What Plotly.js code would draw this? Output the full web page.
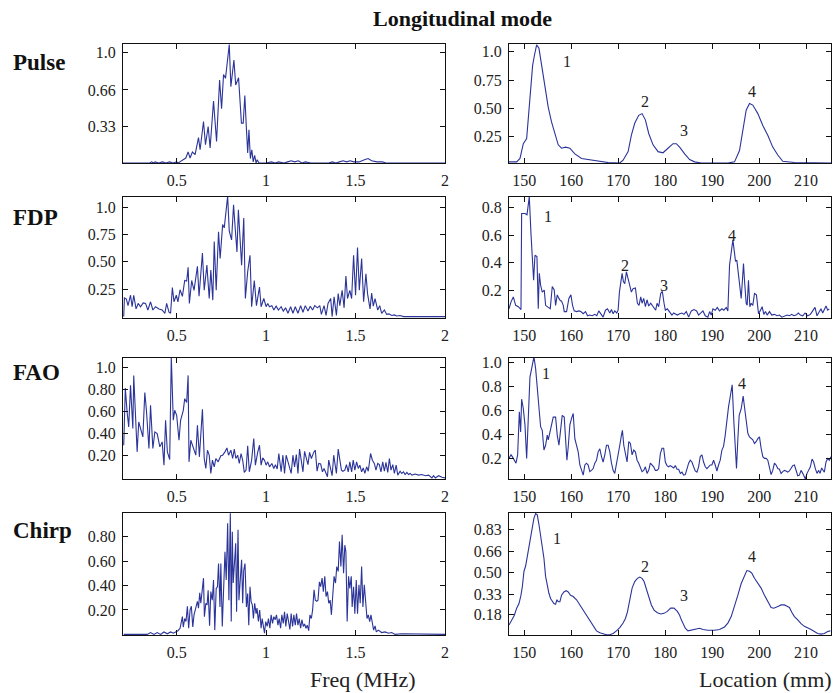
<!DOCTYPE html>
<html><head><meta charset="utf-8">
<script src="https://cdn.plot.ly/plotly-3.0.1.min.js"></script>
<style>html,body{margin:0;padding:0;background:#fff;}#chart{width:837px;height:693px;}</style>
</head><body><div id="chart"></div>
<script>
// ---- DATA: [x, y] pairs ----
const pulseFreq = [[0.2,0],[0.35,0],[0.36,0.01],[0.37,0],[0.38,0.01],[0.40,0],[0.42,0.01],[0.44,0],[0.46,0.01],[0.48,0],[0.50,0.01],[0.51,0],[0.522,0.015],[0.551,0.045],[0.564,0.1],[0.575,0.045],[0.588,0.1],[0.603,0.075],[0.622,0.23],[0.631,0.12],[0.650,0.375],[0.661,0.165],[0.676,0.33],[0.687,0.135],[0.706,0.56],[0.723,0.195],[0.740,0.75],[0.751,0.49],[0.762,0.80],[0.773,0.765],[0.794,1.07],[0.803,0.69],[0.820,0.93],[0.830,0.705],[0.846,0.77],[0.855,0.53],[0.862,0.36],[0.872,0.36],[0.881,0.61],[0.889,0.34],[0.897,0.09],[0.904,0.30],[0.912,0.04],[0.920,0.12],[0.928,0.01],[0.936,0.07],[0.944,0.0],[0.95,0.03],[0.96,0],[0.98,0],[1.0,0],[1.03,0.01],[1.05,0],[1.07,0.01],[1.1,0],[1.12,0.01],[1.14,0.02],[1.16,0.01],[1.18,0.02],[1.2,0],[1.22,0.01],[1.25,0],[1.35,0],[1.37,0.01],[1.39,0],[1.41,0.01],[1.43,0.02],[1.45,0.01],[1.47,0.02],[1.49,0.01],[1.52,0.01],[1.55,0.03],[1.57,0.04],[1.59,0.02],[1.62,0.01],[1.65,0.01],[1.67,0],[2.0,0]];

const pulseLoc = [[146.74,0.03],[148.37,0.03],[149.08,0.06],[149.79,0.19],[150.50,0.235],[151.20,0.56],[151.77,0.88],[152.12,0.96],[152.62,1.06],[153.12,1.03],[153.68,0.88],[154.39,0.68],[155.10,0.51],[155.81,0.38],[156.52,0.29],[157.22,0.18],[157.93,0.15],[158.78,0.16],[159.70,0.15],[160.76,0.10],[162.18,0.06],[164.31,0.045],[166.43,0.035],[167.85,0.024],[170.33,0.02],[171.03,0.045],[172.10,0.12],[172.80,0.265],[173.51,0.37],[174.36,0.44],[175.07,0.455],[175.78,0.40],[176.49,0.28],[177.41,0.18],[178.47,0.12],[179.53,0.11],[180.59,0.15],[181.66,0.19],[182.37,0.19],[183.07,0.16],[184.14,0.10],[185.20,0.05],[186.26,0.03],[187.68,0.02],[193.34,0.02],[194.76,0.03],[195.82,0.13],[196.53,0.31],[197.24,0.485],[197.95,0.545],[198.65,0.53],[199.72,0.455],[200.78,0.35],[201.84,0.265],[202.90,0.16],[203.97,0.09],[205.03,0.035],[207.51,0.025],[215.30,0.02]];

const fdpFreq = [[0.204,0.0],[0.208,0.17],[0.219,0.16],[0.228,0.10],[0.242,0.195],[0.251,0.09],[0.260,0.195],[0.273,0.07],[0.285,0.12],[0.298,0.09],[0.313,0.125],[0.326,0.12],[0.339,0.06],[0.354,0.135],[0.367,0.06],[0.382,0.09],[0.401,0.07],[0.419,0.06],[0.434,0.03],[0.444,0.12],[0.457,0.04],[0.466,0.03],[0.476,0.265],[0.485,0.135],[0.498,0.195],[0.507,0.135],[0.519,0.245],[0.532,0.185],[0.545,0.33],[0.556,0.325],[0.564,0.45],[0.571,0.12],[0.584,0.33],[0.597,0.24],[0.616,0.46],[0.625,0.185],[0.644,0.58],[0.654,0.24],[0.669,0.47],[0.682,0.165],[0.691,0.425],[0.702,0.15],[0.710,0.685],[0.721,0.24],[0.734,0.775],[0.743,0.53],[0.757,0.84],[0.766,0.81],[0.785,1.10],[0.794,0.78],[0.807,0.70],[0.818,1.02],[0.828,0.79],[0.837,0.59],[0.845,0.975],[0.856,0.70],[0.863,0.47],[0.875,0.90],[0.884,0.165],[0.897,0.41],[0.910,0.56],[0.919,0.09],[0.934,0.33],[0.946,0.10],[0.963,0.27],[0.972,0.09],[0.987,0.165],[1.000,0.09],[1.009,0.12],[1.019,0.09],[1.032,0.10],[1.043,0.06],[1.056,0.095],[1.069,0.06],[1.084,0.09],[1.096,0.05],[1.109,0.08],[1.122,0.03],[1.137,0.09],[1.150,0.03],[1.163,0.09],[1.178,0.03],[1.193,0.10],[1.206,0.04],[1.219,0.10],[1.234,0.05],[1.247,0.095],[1.260,0.06],[1.272,0.10],[1.287,0.08],[1.300,0.10],[1.309,0.02],[1.324,0.10],[1.335,0.01],[1.346,0.12],[1.361,0.165],[1.369,0.0],[1.380,0.18],[1.393,0.01],[1.403,0.21],[1.412,0.10],[1.425,0.24],[1.436,0.08],[1.446,0.37],[1.455,0.165],[1.468,0.24],[1.478,0.165],[1.489,0.56],[1.500,0.195],[1.511,0.63],[1.521,0.24],[1.534,0.53],[1.545,0.135],[1.558,0.39],[1.567,0.21],[1.581,0.07],[1.590,0.215],[1.599,0.095],[1.609,0.165],[1.624,0.06],[1.635,0.10],[1.646,0.03],[1.661,0.06],[1.674,0.02],[1.687,0.025],[1.702,0.01],[1.717,0.015],[1.730,0.005],[1.749,0.01],[1.768,0.0],[2.0,0.0]];

const fdpLoc = [[146.74,0.07],[147.17,0.12],[147.66,0.155],[148.16,0.095],[148.73,0.085],[149.29,0.065],[149.43,0.755],[150.14,0.755],[150.57,0.745],[150.85,0.85],[151.06,0.875],[151.42,0.61],[151.70,0.445],[151.98,0.275],[152.27,0.455],[152.69,0.445],[152.97,0.07],[153.19,0.325],[153.47,0.24],[153.82,0.19],[154.25,0.205],[154.53,0.095],[155.10,0.08],[155.52,0.07],[155.95,0.23],[156.37,0.205],[156.66,0.095],[157.01,0.17],[157.37,0.145],[157.65,0.13],[157.93,0.125],[158.29,0.095],[158.50,0.05],[159.00,0.05],[159.49,0.145],[159.92,0.17],[160.27,0.095],[160.62,0.055],[161.12,0.05],[161.61,0.055],[162.04,0.05],[162.54,0.035],[163.03,0.05],[163.46,0.02],[163.95,0.025],[164.45,0.02],[165.01,0.03],[165.44,0.02],[165.86,0.055],[166.29,0.035],[166.78,0.01],[167.28,0.06],[167.71,0.07],[168.20,0.04],[168.56,0.065],[168.91,0.035],[169.26,0.055],[169.69,0.04],[169.97,0.06],[170.25,0.19],[170.54,0.25],[170.82,0.325],[171.10,0.265],[171.39,0.25],[171.74,0.335],[172.10,0.29],[172.45,0.25],[172.80,0.19],[173.16,0.215],[173.65,0.22],[174.08,0.11],[174.43,0.095],[174.79,0.155],[175.07,0.11],[175.42,0.145],[175.78,0.085],[176.13,0.135],[176.49,0.09],[176.91,0.11],[177.27,0.09],[177.62,0.08],[177.97,0.06],[178.26,0.11],[178.61,0.085],[179.04,0.18],[179.39,0.195],[179.75,0.11],[180.03,0.06],[180.45,0.07],[180.95,0.05],[181.44,0.025],[181.80,0.04],[182.15,0.035],[182.58,0.025],[183.07,0.035],[183.57,0.04],[183.99,0.03],[184.49,0.05],[184.99,0.01],[185.55,0.055],[186.12,0.065],[186.69,0.055],[187.11,0.025],[187.54,0.04],[188.03,0.055],[188.53,0.02],[189.09,0.01],[189.45,0.05],[189.80,0.025],[190.16,0.07],[190.65,0.06],[191.08,0.08],[191.57,0.055],[192.07,0.07],[192.49,0.06],[192.99,0.08],[193.34,0.055],[193.70,0.385],[194.05,0.47],[194.41,0.565],[194.76,0.47],[194.97,0.41],[195.25,0.42],[195.61,0.31],[195.82,0.29],[196.18,0.145],[196.39,0.25],[196.67,0.395],[196.88,0.275],[197.24,0.11],[197.45,0.095],[197.73,0.275],[198.02,0.085],[198.30,0.11],[198.65,0.095],[199.01,0.18],[199.43,0.17],[199.86,0.035],[200.21,0.055],[200.64,0.085],[200.99,0.03],[201.35,0.05],[201.70,0.025],[202.20,0.05],[202.69,0.025],[203.26,0.03],[203.82,0.02],[204.32,0.025],[204.82,0.01],[205.38,0.02],[205.95,0.025],[206.44,0.02],[206.94,0.03],[207.37,0.02],[207.86,0.025],[208.36,0.04],[208.78,0.025],[209.28,0.02],[209.77,0.04],[210.34,0.02],[210.91,0.03],[211.40,0.055],[211.90,0.08],[212.32,0.02],[212.82,0.05],[213.17,0.07],[213.53,0.04],[213.88,0.07],[214.24,0.09],[214.59,0.06],[214.94,0.07]];

const faoFreq = [[0.204,0.295],[0.213,0.81],[0.223,0.595],[0.232,0.46],[0.242,0.835],[0.255,0.445],[0.260,0.925],[0.270,0.55],[0.279,0.235],[0.288,0.505],[0.298,0.445],[0.311,0.37],[0.322,0.77],[0.331,0.61],[0.345,0.265],[0.354,0.655],[0.367,0.265],[0.378,0.415],[0.391,0.40],[0.406,0.28],[0.419,0.325],[0.429,0.115],[0.438,0.52],[0.448,0.235],[0.461,0.165],[0.470,1.09],[0.481,0.52],[0.489,0.61],[0.500,0.565],[0.513,0.34],[0.522,0.52],[0.537,0.61],[0.545,0.715],[0.556,0.68],[0.564,0.925],[0.569,0.145],[0.579,0.34],[0.594,0.265],[0.607,0.205],[0.616,0.475],[0.627,0.19],[0.644,0.62],[0.654,0.175],[0.663,0.085],[0.672,0.25],[0.682,0.205],[0.691,0.04],[0.700,0.16],[0.710,0.10],[0.719,0.175],[0.732,0.145],[0.747,0.20],[0.757,0.205],[0.770,0.235],[0.781,0.27],[0.790,0.205],[0.803,0.25],[0.813,0.175],[0.822,0.26],[0.831,0.175],[0.841,0.205],[0.850,0.13],[0.860,0.22],[0.869,0.16],[0.878,0.05],[0.888,0.07],[0.897,0.29],[0.906,0.055],[0.919,0.16],[0.931,0.355],[0.940,0.115],[0.953,0.23],[0.963,0.295],[0.972,0.115],[0.981,0.18],[0.991,0.16],[1.000,0.115],[1.009,0.145],[1.019,0.10],[1.032,0.13],[1.043,0.085],[1.052,0.12],[1.062,0.08],[1.071,0.22],[1.084,0.055],[1.094,0.205],[1.103,0.04],[1.112,0.205],[1.122,0.145],[1.131,0.085],[1.140,0.04],[1.150,0.205],[1.159,0.10],[1.169,0.21],[1.178,0.04],[1.187,0.26],[1.197,0.16],[1.206,0.055],[1.215,0.24],[1.225,0.16],[1.234,0.12],[1.243,0.23],[1.253,0.175],[1.266,0.23],[1.275,0.25],[1.285,0.06],[1.294,0.13],[1.305,0.125],[1.315,0.055],[1.324,0.085],[1.331,0.055],[1.343,0.01],[1.350,0.16],[1.360,0.07],[1.369,0.02],[1.378,0.205],[1.388,0.10],[1.393,0.04],[1.403,0.26],[1.412,0.16],[1.421,0.07],[1.429,0.06],[1.440,0.07],[1.449,0.12],[1.459,0.055],[1.468,0.145],[1.478,0.055],[1.487,0.16],[1.496,0.07],[1.506,0.145],[1.515,0.085],[1.524,0.115],[1.534,0.055],[1.543,0.09],[1.552,0.04],[1.562,0.10],[1.571,0.06],[1.584,0.22],[1.594,0.16],[1.605,0.13],[1.614,0.07],[1.624,0.13],[1.633,0.12],[1.642,0.055],[1.652,0.145],[1.661,0.06],[1.670,0.14],[1.680,0.05],[1.689,0.175],[1.698,0.07],[1.708,0.12],[1.717,0.04],[1.727,0.115],[1.736,0.025],[1.749,0.06],[1.758,0.04],[1.768,0.055],[1.777,0.03],[1.787,0.05],[1.796,0.03],[1.805,0.04],[1.815,0.025],[1.833,0.035],[1.852,0.025],[1.871,0.03],[1.890,0.02],[1.908,0.025],[1.927,0.0],[1.936,0.02],[1.946,0.0],[1.964,0.02],[1.983,0.005],[2.0,0.0]];

const faoLoc = [[146.74,0.20],[147.17,0.23],[147.45,0.215],[147.88,0.185],[148.23,0.16],[148.58,0.23],[148.94,0.59],[149.22,0.42],[149.43,0.695],[149.79,0.615],[150.14,0.48],[150.50,0.20],[150.85,0.48],[151.20,0.88],[151.56,0.95],[152.05,1.05],[152.41,0.95],[152.76,0.81],[153.12,0.645],[153.47,0.465],[153.82,0.435],[154.18,0.27],[154.53,0.31],[154.89,0.395],[155.10,0.355],[155.45,0.42],[155.81,0.48],[156.16,0.545],[156.66,0.545],[157.01,0.395],[157.37,0.31],[157.72,0.45],[158.07,0.56],[158.50,0.545],[158.78,0.365],[159.07,0.185],[159.35,0.295],[159.70,0.48],[160.06,0.535],[160.41,0.575],[160.76,0.365],[161.12,0.31],[161.47,0.255],[161.83,0.145],[162.18,0.10],[162.54,0.06],[162.89,0.145],[163.24,0.16],[163.60,0.145],[163.95,0.09],[164.31,0.10],[164.66,0.115],[165.01,0.16],[165.37,0.185],[165.72,0.255],[166.08,0.28],[166.43,0.215],[166.78,0.17],[167.14,0.23],[167.49,0.31],[167.85,0.31],[168.20,0.255],[168.56,0.16],[168.91,0.10],[169.26,0.075],[169.62,0.145],[169.97,0.24],[170.33,0.31],[170.68,0.395],[170.89,0.435],[171.18,0.31],[171.53,0.23],[171.88,0.17],[172.24,0.34],[172.59,0.325],[172.95,0.23],[173.30,0.27],[173.65,0.255],[174.01,0.185],[174.36,0.16],[174.72,0.13],[175.07,0.09],[175.42,0.10],[175.78,0.13],[176.13,0.075],[176.49,0.10],[176.84,0.16],[177.20,0.145],[177.55,0.13],[177.90,0.10],[178.26,0.10],[178.61,0.115],[178.97,0.24],[179.32,0.285],[179.67,0.285],[180.03,0.17],[180.38,0.14],[180.74,0.13],[181.09,0.14],[181.44,0.13],[181.80,0.12],[182.15,0.14],[182.51,0.11],[182.86,0.11],[183.22,0.075],[183.57,0.085],[183.92,0.06],[184.28,0.065],[184.63,0.115],[184.99,0.16],[185.34,0.185],[185.69,0.17],[186.05,0.13],[186.40,0.095],[186.76,0.085],[187.11,0.13],[187.46,0.215],[187.82,0.23],[188.17,0.17],[188.53,0.13],[188.88,0.115],[189.24,0.13],[189.59,0.145],[189.94,0.145],[190.30,0.185],[190.65,0.145],[191.01,0.095],[191.36,0.145],[191.71,0.185],[192.07,0.27],[192.42,0.30],[192.78,0.395],[193.13,0.535],[193.48,0.63],[193.84,0.715],[194.26,0.815],[194.62,0.505],[194.90,0.285],[195.18,0.115],[195.47,0.365],[195.75,0.56],[196.18,0.615],[196.60,0.72],[196.88,0.63],[197.24,0.52],[197.59,0.41],[197.95,0.38],[198.30,0.365],[198.65,0.355],[199.01,0.325],[199.36,0.34],[199.72,0.365],[200.07,0.38],[200.42,0.285],[200.78,0.215],[201.13,0.20],[201.49,0.20],[201.84,0.185],[202.20,0.13],[202.55,0.065],[202.90,0.10],[203.26,0.16],[203.61,0.145],[203.97,0.115],[204.32,0.11],[204.67,0.075],[205.03,0.09],[205.38,0.10],[205.74,0.095],[206.09,0.085],[206.44,0.095],[206.80,0.115],[207.15,0.14],[207.51,0.145],[207.86,0.10],[208.22,0.055],[208.57,0.06],[208.92,0.10],[209.28,0.075],[209.63,0.045],[209.84,0.028],[210.20,0.075],[210.55,0.10],[210.91,0.13],[211.26,0.195],[211.61,0.17],[211.97,0.115],[212.32,0.075],[212.68,0.10],[212.96,0.075],[213.31,0.12],[213.67,0.095],[213.88,0.085],[214.24,0.17],[214.59,0.20],[214.94,0.185],[215.30,0.215]];

const chirpFreq = [[0.204,0],[0.335,0],[0.354,0.015],[0.373,0.0],[0.391,0.015],[0.410,0.0],[0.429,0.02],[0.448,0.005],[0.466,0.02],[0.481,0.01],[0.494,0.02],[0.507,0.03],[0.519,0.05],[0.526,0.09],[0.532,0.145],[0.537,0.06],[0.545,0.13],[0.552,0.105],[0.560,0.23],[0.567,0.05],[0.575,0.20],[0.582,0.23],[0.590,0.06],[0.597,0.16],[0.607,0.215],[0.616,0.27],[0.622,0.215],[0.629,0.34],[0.635,0.255],[0.642,0.375],[0.650,0.46],[0.655,0.145],[0.663,0.255],[0.670,0.24],[0.676,0.36],[0.684,0.07],[0.691,0.35],[0.699,0.28],[0.706,0.445],[0.713,0.035],[0.721,0.375],[0.728,0.39],[0.734,0.58],[0.742,0.225],[0.747,0.58],[0.755,0.065],[0.762,0.43],[0.770,0.675],[0.777,0.445],[0.785,0.91],[0.792,0.28],[0.800,0.99],[0.805,0.105],[0.811,0.84],[0.816,0.42],[0.822,0.61],[0.830,0.745],[0.835,0.185],[0.843,0.855],[0.848,0.28],[0.856,0.445],[0.863,0.61],[0.869,0.255],[0.875,0.525],[0.882,0.58],[0.890,0.225],[0.897,0.335],[0.903,0.075],[0.910,0.39],[0.916,0.27],[0.923,0.24],[0.929,0.13],[0.936,0.255],[0.944,0.17],[0.949,0.215],[0.957,0.105],[0.964,0.20],[0.972,0.05],[0.978,0.13],[0.985,0.075],[0.991,0.01],[0.998,0.105],[1.006,0.065],[1.013,0.13],[1.021,0.05],[1.028,0.16],[1.036,0.09],[1.043,0.145],[1.051,0.12],[1.058,0.16],[1.066,0.075],[1.073,0.13],[1.081,0.05],[1.088,0.16],[1.096,0.09],[1.103,0.185],[1.110,0.065],[1.118,0.17],[1.125,0.105],[1.133,0.04],[1.140,0.17],[1.148,0.065],[1.155,0.16],[1.163,0.075],[1.170,0.17],[1.178,0.075],[1.185,0.13],[1.193,0.05],[1.200,0.12],[1.208,0.065],[1.215,0.085],[1.223,0.05],[1.230,0.075],[1.238,0.03],[1.245,0.16],[1.253,0.13],[1.260,0.20],[1.268,0.365],[1.275,0.28],[1.283,0.27],[1.290,0.28],[1.298,0.43],[1.305,0.39],[1.313,0.46],[1.320,0.35],[1.328,0.475],[1.335,0.31],[1.343,0.35],[1.350,0.255],[1.358,0.28],[1.365,0.16],[1.373,0.31],[1.380,0.475],[1.388,0.42],[1.395,0.555],[1.403,0.515],[1.410,0.76],[1.418,0.555],[1.425,0.815],[1.433,0.50],[1.440,0.73],[1.446,0.675],[1.453,0.105],[1.461,0.475],[1.468,0.375],[1.476,0.475],[1.481,0.225],[1.489,0.39],[1.496,0.17],[1.504,0.445],[1.511,0.17],[1.519,0.405],[1.526,0.255],[1.534,0.555],[1.541,0.225],[1.549,0.405],[1.556,0.255],[1.564,0.13],[1.571,0.16],[1.579,0.105],[1.586,0.16],[1.594,0.09],[1.601,0.035],[1.609,0.07],[1.616,0.02],[1.627,0.035],[1.646,0.015],[1.665,0.02],[1.684,0.01],[1.702,0.015],[1.721,0.0],[1.758,0.005],[1.890,0.0],[2.0,0.0]];

const chirpLoc = [[146.74,0.095],[147.31,0.135],[147.88,0.17],[148.37,0.225],[148.87,0.26],[149.29,0.325],[149.58,0.39],[149.93,0.51],[150.28,0.55],[150.64,0.625],[150.99,0.70],[151.35,0.765],[151.70,0.855],[152.05,0.92],[152.41,0.955],[152.76,0.945],[153.12,0.87],[153.47,0.78],[153.82,0.70],[154.18,0.61],[154.53,0.47],[154.89,0.39],[155.24,0.34],[155.59,0.30],[155.95,0.275],[156.30,0.26],[156.66,0.255],[156.94,0.29],[157.22,0.275],[157.58,0.275],[157.93,0.325],[158.43,0.35],[158.92,0.36],[159.35,0.35],[159.84,0.325],[160.41,0.315],[161.12,0.29],[161.83,0.25],[162.54,0.21],[163.24,0.17],[163.95,0.135],[164.66,0.085],[165.37,0.05],[166.08,0.035],[166.78,0.025],[167.49,0.02],[168.20,0.02],[168.91,0.03],[169.62,0.05],[170.33,0.075],[171.03,0.11],[171.53,0.145],[171.95,0.195],[172.45,0.29],[172.95,0.38],[173.51,0.43],[174.08,0.455],[174.58,0.465],[175.07,0.455],[175.50,0.43],[175.99,0.38],[176.49,0.315],[177.05,0.25],[177.62,0.21],[178.33,0.19],[179.04,0.18],[179.75,0.185],[180.45,0.20],[181.16,0.225],[181.87,0.225],[182.58,0.20],[183.07,0.17],[183.43,0.135],[183.78,0.105],[184.28,0.07],[184.84,0.05],[185.55,0.055],[186.26,0.06],[187.32,0.07],[188.03,0.06],[189.09,0.055],[190.51,0.055],[191.57,0.06],[192.63,0.08],[193.34,0.11],[194.05,0.16],[194.76,0.235],[195.47,0.325],[196.18,0.415],[196.88,0.48],[197.38,0.515],[197.95,0.51],[198.44,0.495],[199.01,0.455],[199.72,0.42],[200.42,0.38],[201.13,0.325],[201.84,0.275],[202.55,0.23],[203.12,0.225],[203.61,0.23],[204.11,0.24],[204.67,0.25],[205.38,0.25],[205.95,0.24],[206.44,0.23],[207.01,0.19],[207.51,0.16],[208.22,0.135],[208.92,0.105],[209.63,0.085],[210.34,0.075],[211.05,0.06],[211.76,0.045],[212.46,0.03],[213.17,0.025],[213.88,0.03],[214.59,0.045],[215.16,0.05]];

// tick values / labels
const freqTicks = [0.5, 1, 1.5, 2];
const freqTickText = ['0.5', '1', '1.5', '2'];
const locTicks = [150, 160, 170, 180, 190, 200, 210];
const locTickText = ['150', '160', '170', '180', '190', '200', '210'];
const yTicks = [
  {v:[0.33,0.66,1.0], t:['0.33','0.66','1.0']},
  {v:[0.25,0.5,0.75,1.0], t:['0.25','0.50','0.75','1.0']},
  {v:[0.25,0.5,0.75,1.0], t:['0.25','0.50','0.75','1.0']},
  {v:[0.2,0.4,0.6,0.8], t:['0.2','0.4','0.6','0.8']},
  {v:[0.2,0.4,0.6,0.8,1.0], t:['0.20','0.40','0.60','0.80','1.0']},
  {v:[0.2,0.4,0.6,0.8,1.0], t:['0.2','0.4','0.6','0.8','1.0']},
  {v:[0.2,0.4,0.6,0.8], t:['0.20','0.40','0.60','0.80']},
  {v:[0.18,0.33,0.50,0.66,0.83], t:['0.18','0.33','0.50','0.66','0.83']}
];
const rowLabels = ['Pulse', 'FDP', 'FAO', 'Chirp'];
const peakLabels = [
  {sub:2, pts:[['1',159.0,0.91],['2',175.6,0.56],['3',183.9,0.31],['4',198.4,0.65]]},
  {sub:4, pts:[['1',155.0,0.73],['2',171.5,0.38],['3',179.7,0.235],['4',194.3,0.595]]},
  {sub:6, pts:[['1',154.7,0.91],['4',196.3,0.825]]},
  {sub:8, pts:[['1',157.0,0.765],['2',175.6,0.546],['3',183.9,0.32],['4',198.4,0.62]]}
];

// ---- LAYOUT GEOMETRY ----
const W = 837, H = 693;
const FONT = '"Liberation Serif", "Times New Roman", "DejaVu Serif", serif';
const LINE = '#2b3499';
const colDom = [[123/W, 445/W], [509/W, 831/W]];
const rowPx = [[44,163],[197,318],[358,479],[513,635]];
const yRanges = [[0,1.075],[0.02,1.068],[-0.013,1.092],[0.004,0.873],[-0.01,1.082],[0.028,1.039],[-0.005,0.993],[0.018,0.959]];
const xRanges = [[0.2,2.0],[146.74,215.3]];
const series = [pulseFreq, pulseLoc, fdpFreq, fdpLoc, faoFreq, faoLoc, chirpFreq, chirpLoc];

const traces = [];
const layout = {
  width: W, height: H, margin:{l:0,r:0,t:0,b:0},
  paper_bgcolor:'#fff', plot_bgcolor:'#fff', showlegend:false,
  font:{family:FONT, size:16, color:'#222'},
  annotations:[]
};
series.forEach((s, i) => {
  const n = i + 1;
  const row = Math.floor(i/2), col = i % 2;
  const xk = n === 1 ? 'x' : 'x' + n, yk = n === 1 ? 'y' : 'y' + n;
  traces.push({x: s.map(p=>p[0]), y: s.map(p=>p[1]), xaxis: xk, yaxis: yk,
    type:'scatter', mode:'lines', line:{color:LINE, width:1.1}, hoverinfo:'skip', cliponaxis:true});
  const common = {showline:true, linecolor:'#111', linewidth:1, mirror:'ticks', ticks:'inside',
    ticklen:5, tickcolor:'#111', tickwidth:1, showgrid:false, zeroline:false, fixedrange:true,
    tickfont:{family:FONT, size:16, color:'#222'}, tickmode:'array'};
  layout[n===1?'xaxis':'xaxis'+n] = Object.assign({}, common, {
    domain: colDom[col], range: xRanges[col], anchor: yk,
    tickvals: col===0?freqTicks:locTicks, ticktext: col===0?freqTickText:locTickText,
    ticklabelstandoff: 3});
  layout[n===1?'yaxis':'yaxis'+n] = Object.assign({}, common, {
    domain: [1 - rowPx[row][1]/H, 1 - rowPx[row][0]/H], range: yRanges[i], anchor: xk,
    tickvals: yTicks[i].v, ticktext: yTicks[i].t, ticklabelstandoff: 3});
});

peakLabels.forEach(g => {
  g.pts.forEach(p => layout.annotations.push({text:p[0], x:p[1], y:p[2], xref:'x'+g.sub, yref:'y'+g.sub,
    showarrow:false, font:{family:FONT, size:16, color:'#222'}}));
});
const rowY = [62, 218, 373, 530];
rowLabels.forEach((t, r) => layout.annotations.push({text:'<b>'+t+'</b>', x:11/W, y:1-rowY[r]/H,
  xref:'paper', yref:'paper', xanchor:'left', yanchor:'middle', showarrow:false,
  font:{family:FONT, size:23, color:'#111'}}));
layout.annotations.push({text:'<b>Longitudinal mode</b>', x:371/W, y:1-18/H, xref:'paper', yref:'paper',
  xanchor:'left', yanchor:'middle', showarrow:false, font:{family:FONT, size:22, color:'#111'}});
layout.annotations.push({text:'Freq (MHz)', x:418/W, y:1-679/H, xref:'paper', yref:'paper',
  xanchor:'right', yanchor:'middle', showarrow:false, font:{family:FONT, size:22, color:'#222'}});
layout.annotations.push({text:'Location (mm)', x:834/W, y:1-679/H, xref:'paper', yref:'paper',
  xanchor:'right', yanchor:'middle', showarrow:false, font:{family:FONT, size:22, color:'#222'}});

Plotly.newPlot('chart', traces, layout, {displayModeBar:false, staticPlot:true});
</script></body></html>
